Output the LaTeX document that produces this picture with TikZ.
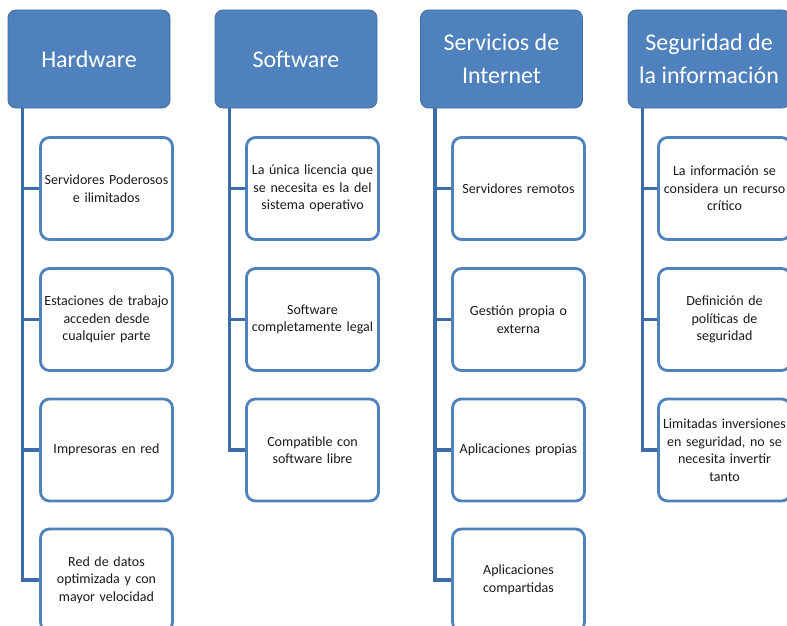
\documentclass[tikz,border=0pt]{standalone}
\usepackage{fontspec}
\setmainfont{Carlito}
\definecolor{hdrblue}{HTML}{4F81BD}
\definecolor{linkblue}{HTML}{3D6CA6}
\definecolor{txtdark}{HTML}{1A1A1A}
\tikzset{
  hdr/.style={draw=hdrblue!85!black, line width=0.8pt, fill=hdrblue, rounded corners=8pt,
    minimum width=162pt, minimum height=98pt, text=white, align=center,
    font=\fontsize{24}{33}\selectfont, inner sep=2pt},
  item/.style={draw=hdrblue, line width=2.8pt, fill=white, rounded corners=9pt,
    minimum width=132pt, minimum height=102pt, text=txtdark, align=center,
    text width=128pt, font=\fontsize{14}{17.5}\selectfont, inner sep=2pt},
  conn/.style={draw=linkblue, line width=3.4pt}
}
\begin{document}
\begin{tikzpicture}[x=1pt,y=-1pt]
\clip (0,0) rectangle (787,626);
\fill[white] (0,0) rectangle (787,626);
% headers
\node[hdr] (hw) at (89,59) {\raisebox{-3pt}{Hardware}};
\node[hdr] (sw) at (296,59) {\raisebox{-3pt}{Software}};
\node[hdr] (si) at (501.5,59) {\raisebox{-3pt}{Servicios de}\\\raisebox{-3pt}{Internet}};
\node[hdr] (sg) at (709,59) {\raisebox{-3pt}{Seguridad de}\\\raisebox{-3pt}{la información}};
% Hardware items
\node[item] (hw1) at (106.5,188.5) {Servidores Poderosos\\e ilimitados};
\node[item] (hw2) at (106.5,319.5) {Estaciones de trabajo\\acceden desde\\cualquier parte};
\node[item] (hw3) at (106.5,450) {Impresoras en red};
\node[item] (hw4) at (106.5,580) {Red de datos\\optimizada y con\\mayor velocidad};
% Software items
\node[item] (sw1) at (312.5,188.5) {La única licencia que\\se necesita es la del\\sistema operativo};
\node[item] (sw2) at (312.5,319.5) {Software\\completamente legal};
\node[item] (sw3) at (312.5,450) {Compatible con\\software libre};
% Servicios items
\node[item] (si1) at (518.5,188.5) {Servidores remotos};
\node[item] (si2) at (518.5,319.5) {Gestión propia o\\externa};
\node[item] (si3) at (518.5,450) {Aplicaciones propias};
\node[item] (si4) at (518.5,580) {Aplicaciones\\compartidas};
% Seguridad items
\node[item] (sg1) at (724.5,188.5) {La información se\\considera un recurso\\crítico};
\node[item] (sg2) at (724.5,319.5) {Definición de\\políticas de\\seguridad};
\node[item] (sg3) at (724.5,450) {Limitadas inversiones\\en seguridad, no se\\necesita invertir\\tanto};
% connectors
\foreach \h/\n in {hw/4, sw/3, si/4, sg/3} {
  \coordinate (\h top) at ([xshift=15pt]\h.south west);
  \draw[conn] (\h top) |- (\h\n.west);
  \foreach \k in {1,...,\n} {
    \draw[conn] (\h top |- \h\k.west) -- (\h\k.west);
  }
}
\end{tikzpicture}
\end{document}
